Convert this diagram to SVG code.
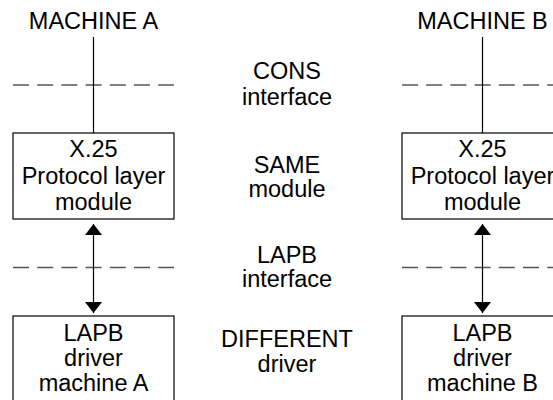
<svg xmlns="http://www.w3.org/2000/svg" width="553" height="400" viewBox="0 0 553 400">
<style>
  text { font-family: "Liberation Sans", Arial, Helvetica, sans-serif; font-size: 23.5px; fill: #000; text-anchor: middle; }
  .box { fill: #fff; stroke: #000; stroke-width: 1.2; }
  .line { stroke: #000; stroke-width: 1.2; fill: none; }
  .dash { stroke: #555; stroke-width: 1.4; stroke-dasharray: 16 8.2; fill: none; }
</style>
<defs>
  <marker id="arrow" viewBox="0 0 11 17" refX="11" refY="8.5" markerWidth="11" markerHeight="17" markerUnits="userSpaceOnUse" orient="auto-start-reverse">
    <path d="M0,0 L11,8.5 L0,17 Z" fill="#000"/>
  </marker>
</defs>
<rect width="553" height="400" fill="#fff"/>

<g id="interfaces">
  <line class="dash" x1="13" y1="85" x2="174" y2="85"/>
  <line class="dash" x1="13" y1="267.5" x2="174" y2="267.5"/>
  <line class="dash" x1="402" y1="85" x2="563" y2="85"/>
  <line class="dash" x1="402" y1="267.5" x2="563" y2="267.5"/>
</g>

<g id="connectors">
  <line class="line" x1="93.5" y1="37" x2="93.5" y2="133"/>
  <line class="line" x1="93.5" y1="224" x2="93.5" y2="313" marker-start="url(#arrow)" marker-end="url(#arrow)"/>
  <line class="line" x1="482.5" y1="37" x2="482.5" y2="133"/>
  <line class="line" x1="482.5" y1="224" x2="482.5" y2="313" marker-start="url(#arrow)" marker-end="url(#arrow)"/>
</g>

<g id="machineA-label"><text x="93.5" y="29">MACHINE A</text></g>
<g id="machineB-label"><text x="482.5" y="29">MACHINE B</text></g>

<g id="x25-A">
  <rect class="box" x="13" y="133" width="161" height="86"/>
  <text x="93.5" y="157">X.25</text>
  <text x="93.5" y="184">Protocol layer</text>
  <text x="93.5" y="210">module</text>
</g>
<g id="x25-B">
  <rect class="box" x="402" y="133" width="161" height="86"/>
  <text x="482.5" y="157">X.25</text>
  <text x="482.5" y="184">Protocol layer</text>
  <text x="482.5" y="210">module</text>
</g>
<g id="lapb-A">
  <rect class="box" x="13" y="316" width="161" height="100"/>
  <text x="93.5" y="341">LAPB</text>
  <text x="93.5" y="366">driver</text>
  <text x="93.5" y="391">machine A</text>
</g>
<g id="lapb-B">
  <rect class="box" x="402" y="316" width="161" height="100"/>
  <text x="482.5" y="341">LAPB</text>
  <text x="482.5" y="366">driver</text>
  <text x="482.5" y="391">machine B</text>
</g>

<g id="labels">
  <text x="287" y="79">CONS</text>
  <text x="287" y="105">interface</text>
  <text x="287" y="173">SAME</text>
  <text x="287" y="197">module</text>
  <text x="287" y="263">LAPB</text>
  <text x="287" y="287">interface</text>
  <text x="287" y="347">DIFFERENT</text>
  <text x="287" y="372">driver</text>
</g>
</svg>
